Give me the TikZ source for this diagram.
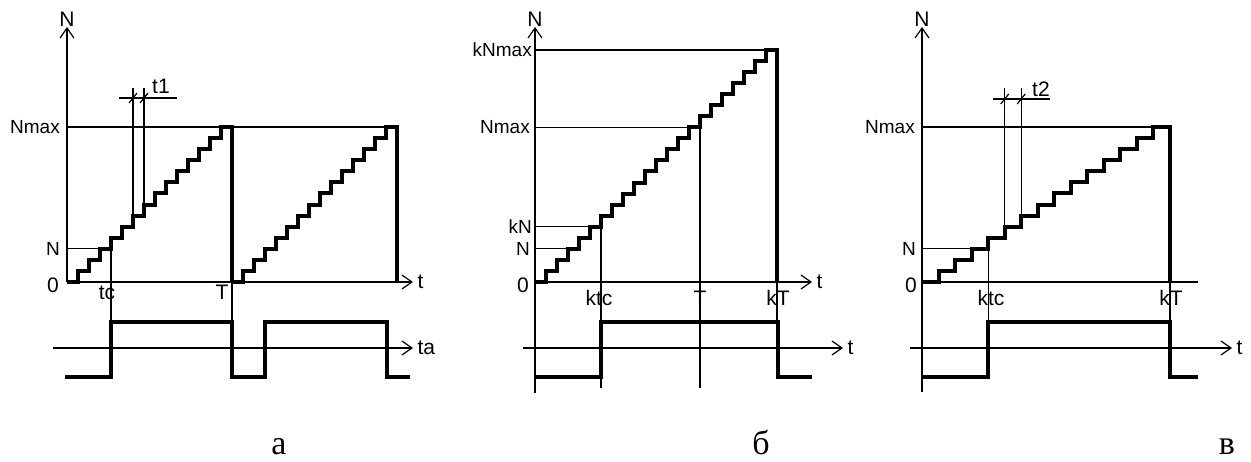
\documentclass[tikz,border=0pt]{standalone}
\usepackage{fontspec}
\setmainfont{Liberation Serif}
\setsansfont{Liberation Sans}
\usetikzlibrary{arrows.meta}
\tikzset{
  fine/.style={line width=1.2pt},
  axarr/.style={fine,-{Straight Barb[length=10pt,width=14pt]}},
  bold/.style={line width=4pt},
  lvl/.style={font=\sffamily\fontsize{19}{19}\selectfont,inner sep=0pt,anchor=base east},
  tlbl/.style={font=\sffamily\fontsize{21}{21}\selectfont,inner sep=0pt,anchor=base},
  capt/.style={font=\fontsize{34}{34}\selectfont,inner sep=0pt,anchor=base},
}
\begin{document}
\begin{tikzpicture}[x=1pt,y=-1pt]
\useasboundingbox (0,0) rectangle (1251,462);
% % panel a
\begin{scope}[shift={(67,282)}]
 \coordinate (aO) at (0,0);
 \coordinate (aNm) at (0,-155);
 \coordinate (aN) at (0,-33.2);
 \draw[axarr] (aO) -- (0,-255) node[tlbl] (aNlab) {N};
 \draw[axarr] (aO) -- (346,0) node[tlbl,anchor=base west,xshift=4pt,yshift=-7pt] (atlab) {t};
 \draw[fine] (aNm) -- (331,-155);
 \draw[fine] (aN) -- (44,-33.2) -- (44,95);
 \draw[fine] (165,-155) -- (165,95);
 % t1 marks
 \draw[fine] (66,-66.4) -- (66,-194) (77,-77.5) -- (77,-194);
 \draw[fine] (52,-184) -- (110,-184);
 \draw[fine] (66,-184) +(-4,5) -- +(4,-5) (77,-184) +(-4,5) -- +(4,-5);
 \node[tlbl,anchor=base west] (at1) at (85,-188) {t1};
 % counter
 \draw[bold] (aO) foreach \i in {1,...,14} {-- ++(11,0) -- ++(0,-11.07)} -- ++(11,0) -- ++(0,155);
 \draw[bold] (165,0) foreach \i in {1,...,14} {-- ++(11,0) -- ++(0,-11.07)} -- ++(11,0) -- ++(0,155);
 % pulse
 \draw[axarr] (-14,66) -- (346,66) node[tlbl,anchor=base west,xshift=4pt,yshift=-7pt] (atalab) {ta};
 \draw[bold] (-2,95) -- (44,95) -- (44,40) -- (165,40) -- (165,95) -- (198,95) -- (198,40) -- (320,40) -- (320,95) -- (343,95);
 \node[lvl] (aNmlab) at (-7,-148) {Nmax};
 \node[lvl] (aNlab2) at (-7,-26) {N};
 \node[tlbl,anchor=base east] (a0lab) at (-8,11) {0};
 \node[tlbl] (atclab) at (40,18) {tc};
 \node[tlbl] (aTlab) at (155,18) {T};
 \node[capt] (acap) at (212,172) {а};
\end{scope}
% % panel b
\begin{scope}[shift={(535,282)}]
 \coordinate (bO) at (0,0);
 \draw[fine] (0,111) -- (bO);
 \draw[axarr] (bO) -- (0,-255) node[tlbl] (bNlab) {N};
 \draw[axarr] (bO) -- (277,0) node[tlbl,anchor=base west,xshift=4pt,yshift=-7pt] (btlab) {t};
 \draw[fine] (0,-232) -- (242,-232);
 \draw[fine] (0,-154.7) -- (165,-154.7) -- (165,106);
 \draw[fine] (0,-55.2) -- (66,-55.2) -- (66,106);
 \draw[fine] (0,-33.1) -- (33,-33.1);
 \draw[fine] (242,0) -- (242,40);
 % counter
 \draw[bold] (bO) foreach \i in {1,...,21} {-- ++(11,0) -- ++(0,-11.05)} -- ++(11,0) -- ++(0,232);
 % pulse
 \draw[axarr] (-12,66) -- (308,66) node[tlbl,anchor=base west,xshift=4pt,yshift=-7pt] (btplab) {t};
 \draw[bold] (0,95) -- (66,95) -- (66,40) -- (243,40) -- (243,95) -- (277,95);
 \node[lvl] (bkNmlab) at (-3,-225) {kNmax};
 \node[lvl] (bNmlab) at (-5,-148) {Nmax};
 \node[lvl] (bkNlab) at (-3,-48) {kN};
 \node[lvl] (bNlab2) at (-5,-26) {N};
 \node[tlbl,anchor=base east] (b0lab) at (-6,11) {0};
 \node[tlbl] (bktclab) at (64,24) {ktc};
 \node[tlbl] (bTlab) at (165,24) {T};
 \node[tlbl] (bkTlab) at (243,24) {kT};
 \node[capt] (bcap) at (226,172) {б};
\end{scope}
% % panel v
\begin{scope}[shift={(922,282)}]
 \coordinate (cO) at (0,0);
 \draw[fine] (0,110) -- (cO);
 \draw[axarr] (cO) -- (0,-255) node[tlbl] (cNlab) {N};
 \draw[fine] (cO) -- (276,0);
 \draw[fine] (0,-155) -- (248,-155);
 \draw[fine] (0,-33.2) -- (66.1,-33.2) -- (66.1,95);
 \draw[fine] (248,0) -- (248,40);
 % t2 marks
 \draw[fine] (82.7,-55.4) -- (82.7,-194) (99.2,-66.4) -- (99.2,-194);
 \draw[fine] (71,-183) -- (128,-183);
 \draw[fine] (82.7,-183) +(-4,5) -- +(4,-5) (99.2,-183) +(-4,5) -- +(4,-5);
 \node[tlbl,anchor=base west] (ct2) at (110,-185) {t2};
 % counter
 \draw[bold] (cO) foreach \i in {1,...,14} {-- ++(16.53,0) -- ++(0,-11.07)} -- ++(16.53,0) -- ++(0,155);
 % pulse
 \draw[axarr] (-12,66) -- (310,66) node[tlbl,anchor=base west,xshift=4pt,yshift=-7pt] (ctplab) {t};
 \draw[bold] (0,95) -- (66.1,95) -- (66.1,40) -- (248,40) -- (248,95) -- (276,95);
 \node[lvl] (cNmlab) at (-7,-148) {Nmax};
 \node[lvl] (cNlab2) at (-6,-26) {N};
 \node[tlbl,anchor=base east] (c0lab) at (-5,11) {0};
 \node[tlbl] (cktclab) at (69,24) {ktc};
 \node[tlbl] (ckTlab) at (249,24) {kT};
 \node[capt] (ccap) at (305,172) {в};
\end{scope}
\end{tikzpicture}
\end{document}
